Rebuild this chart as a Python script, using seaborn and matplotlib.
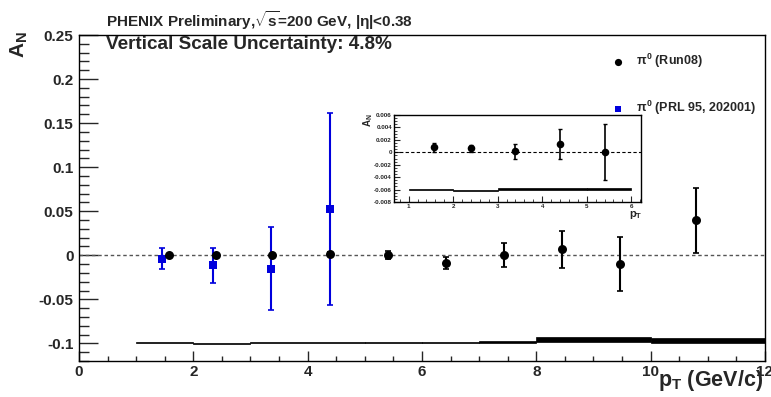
import numpy as np
import pandas as pd
import seaborn as sns
import matplotlib.pyplot as plt
from matplotlib.ticker import MultipleLocator

sns.set_style("ticks")
plt.rcParams['font.family'] = ['Liberation Sans', 'DejaVu Sans']
plt.rcParams['font.weight'] = 'bold'
plt.rcParams['mathtext.fontset'] = 'custom'
plt.rcParams['mathtext.rm'] = 'Liberation Sans:bold'
plt.rcParams['mathtext.it'] = 'Liberation Sans:bold'
plt.rcParams['mathtext.bf'] = 'Liberation Sans:bold'

# Run08 pi0 asymmetry
run08_pt = [1.58, 2.40, 3.38, 4.39, 5.41, 6.42, 7.44, 8.45, 9.47, 10.80]
run08_an = [0.0008, 0.00064, 0.00016, 0.0013, 0.0, -0.0087, 0.0003, 0.007, -0.0099, 0.0398]
run08_err = [0.0007, 0.0006, 0.0012, 0.0024, 0.0045, 0.007, 0.014, 0.021, 0.031, 0.037]

# PRL 95, 202001
prl_pt = [1.45, 2.35, 3.36, 4.39]
prl_an = [-0.0038, -0.0114, -0.0152, 0.053]
prl_err = [0.012, 0.020, 0.047, 0.109]

# scale uncertainty boxes (main panel)
sys_edges = [1, 2, 3, 5, 6, 7, 8, 10, 12]
sys_lo = [-0.0997, -0.1006, -0.0997, -0.0997, -0.0997, -0.0994, -0.0987, -0.0992]
sys_hi = [-0.0985, -0.0994, -0.0987, -0.0985, -0.0985, -0.0969, -0.0924, -0.0940]

# scale uncertainty boxes (inset)
ins_edges = [1, 2, 3, 5, 6]
ins_lo = [-0.0060, -0.0062, -0.0061, -0.0061]
ins_hi = [-0.0059, -0.0060, -0.0058, -0.0057]

main_xticks = [0, 2, 4, 6, 8, 10, 12]
main_yticks = [-0.1, -0.05, 0, 0.05, 0.1, 0.15, 0.2, 0.25]
main_ylabels = ['-0.1', '-0.05', '0', '0.05', '0.1', '0.15', '0.2', '0.25']
ins_xticks = [1, 2, 3, 4, 5, 6]
ins_yticks = [-0.008, -0.006, -0.004, -0.002, 0, 0.002, 0.004, 0.006]
ins_ylabels = ['-0.008', '-0.006', '-0.004', '-0.002', '0', '0.002', '0.004', '0.006']

run08 = pd.DataFrame({'pt': run08_pt, 'an': run08_an, 'err': run08_err})
prl = pd.DataFrame({'pt': prl_pt, 'an': prl_an, 'err': prl_err})

fig = plt.figure(figsize=(7.71, 3.97), dpi=100)
ax = fig.add_axes([79 / 771, 1 - 361 / 397, 686 / 771, 326 / 397])


def draw_boxes(a, edges, lo, hi):
    left = np.array(edges[:-1])
    width = np.diff(edges)
    a.bar(left, np.array(hi) - np.array(lo), bottom=lo, width=width, align='edge',
          color='black', edgecolor='black', linewidth=0.5, zorder=2)


ax.axhline(0, color='#555555', ls=(0, (2.5, 2)), lw=1, zorder=1)
draw_boxes(ax, sys_edges, sys_lo, sys_hi)

ax.errorbar(prl['pt'], prl['an'], yerr=prl['err'], fmt='none', ecolor='#0000dd',
            elinewidth=1.5, capsize=2, capthick=1.2, zorder=3)
sns.scatterplot(data=prl, x='pt', y='an', marker='s', color='#0000dd', s=38,
                edgecolor='#0000dd', linewidth=0, ax=ax, zorder=4,
                label=r'$\pi^0$ (PRL 95, 202001)')
ax.errorbar(run08['pt'], run08['an'], yerr=run08['err'], fmt='none', ecolor='black',
            elinewidth=1.5, capsize=2, capthick=1.2, zorder=3)
sns.scatterplot(data=run08, x='pt', y='an', marker='o', color='black', s=42,
                edgecolor='black', linewidth=0, ax=ax, zorder=5,
                label=r'$\pi^0$ (Run08)')

ax.set_xlabel('')
ax.set_ylabel('')
ax.set_xticks(main_xticks)
ax.set_xticklabels([str(v) for v in main_xticks])
ax.set_yticks(main_yticks)
ax.set_yticklabels(main_ylabels)
ax.xaxis.set_minor_locator(MultipleLocator(0.5))
ax.yaxis.set_minor_locator(MultipleLocator(0.01))
ax.set_xlim(0, 12)
ax.set_ylim(-0.12, 0.25)
ax.tick_params(axis='y', which='major', direction='in', length=14, width=1, labelsize=11, pad=4)
ax.tick_params(axis='y', which='minor', direction='in', length=7, width=1)
ax.tick_params(axis='x', which='major', direction='in', length=7, width=1, labelsize=11, pad=3)
ax.tick_params(axis='x', which='minor', direction='in', length=3.5, width=1)
for lab in ax.get_xticklabels() + ax.get_yticklabels():
    lab.set_fontweight('bold')
for s in ax.spines.values():
    s.set_linewidth(1)
    s.set_color('black')

handles, labels = ax.get_legend_handles_labels()
leg = ax.legend(handles[::-1], labels[::-1], loc='upper left',
                bbox_to_anchor=(604 / 771, 1 - 46 / 397), bbox_transform=fig.transFigure,
                frameon=False, fontsize=9, labelspacing=2.3, handletextpad=0.9,
                markerscale=0.8, borderpad=0, handlelength=1.2)
for t in leg.get_texts():
    t.set_fontweight('bold')

fig.text(106 / 771, 1 - 27 / 397, r'PHENIX Preliminary,$\sqrt{s}$=200 GeV, |η|<0.38',
         fontsize=11, fontweight='bold', va='baseline', ha='left')
fig.text(106 / 771, 1 - 49 / 397, 'Vertical Scale Uncertainty: 4.8%',
         fontsize=13.6, fontweight='bold', va='baseline', ha='left')
fig.text(19 / 771, 1 - 45 / 397, r'$A_N$', fontsize=15, rotation=90,
         ha='center', va='center')
fig.text(763 / 771, 1 - 386 / 397, r'$p_T$ (GeV/c)', fontsize=15.5, fontweight='bold',
         ha='right', va='baseline')

# inset
ins = fig.add_axes([394 / 771, 1 - 202 / 397, 247 / 771, 87 / 397])
ins.set_facecolor('white')
ins.axhline(0, color='black', ls=(0, (3, 2)), lw=0.8, zorder=1)
draw_boxes(ins, ins_edges, ins_lo, ins_hi)
ins5 = run08.iloc[:5]
ins.errorbar(ins5['pt'], ins5['an'], yerr=ins5['err'], fmt='none', ecolor='black',
             elinewidth=1.2, capsize=1.5, capthick=1, zorder=3)
sns.scatterplot(data=ins5, x='pt', y='an', marker='o', color='black', s=30,
                edgecolor='black', linewidth=0, ax=ins, zorder=4, legend=False)
ins.set_xlabel('')
ins.set_ylabel('')
ins.set_xticks(ins_xticks)
ins.set_xticklabels([str(v) for v in ins_xticks])
ins.set_yticks(ins_yticks)
ins.set_yticklabels(ins_ylabels)
ins.xaxis.set_minor_locator(MultipleLocator(0.2))
ins.yaxis.set_minor_locator(MultipleLocator(0.0005))
ins.set_xlim(0.67, 6.22)
ins.set_ylim(-0.008, 0.006)
ins.tick_params(axis='both', which='major', direction='in', length=4, width=0.8,
                labelsize=4.5, pad=1.5)
ins.tick_params(axis='both', which='minor', direction='in', length=2, width=0.6)
for s in ins.spines.values():
    s.set_linewidth(1)
    s.set_color('black')
fig.text(368 / 771, 1 - 120 / 397, r'$A_N$', fontsize=7, rotation=90, ha='center', va='center')
fig.text(636 / 771, 1 - 215 / 397, r'$p_T$', fontsize=8, ha='center', va='center')

fig.savefig('out.png', dpi=100)
